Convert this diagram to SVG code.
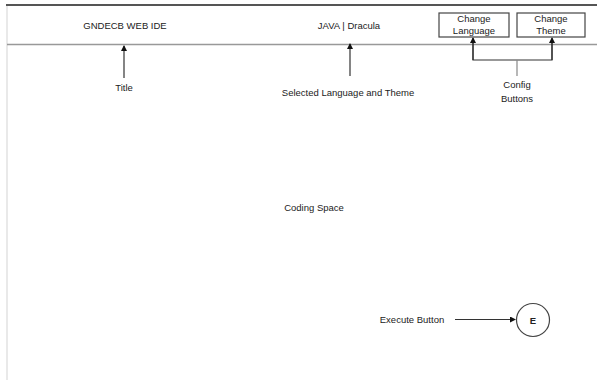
<svg xmlns="http://www.w3.org/2000/svg" width="597" height="380" viewBox="0 0 597 380">
<style>
text{font-family:"Liberation Sans",Arial,sans-serif;font-size:9.5px;fill:#222;text-anchor:middle}
.c{stroke:#333;stroke-width:1.2;fill:none}
.box{fill:#fff;stroke:#444;stroke-width:1.2}
</style>
<defs>
<marker id="ah" markerWidth="6" markerHeight="6" refX="5" refY="3" orient="auto" markerUnits="userSpaceOnUse">
<path d="M0,0 L6,3 L0,6 Z" fill="#111"/>
</marker>
</defs>
<rect width="597" height="380" fill="#fff"/>
<g id="frame">
<line x1="7" y1="5" x2="7" y2="380" stroke="#e2e2e2" stroke-width="1.5"/>
<line x1="6" y1="5" x2="597" y2="5" stroke="#555" stroke-width="2"/>
<line x1="7" y1="44.5" x2="597" y2="44.5" stroke="#999" stroke-width="1.5"/>
</g>
<g id="connectors">
<line class="c" x1="124" y1="78" x2="124" y2="46" marker-end="url(#ah)"/>
<line class="c" x1="350" y1="76" x2="350" y2="44" marker-end="url(#ah)"/>
<polyline class="c" points="473,39 473,60 552,60 552,39"/>
<line class="c" x1="473" y1="60" x2="473" y2="38" marker-end="url(#ah)"/>
<line class="c" x1="552" y1="60" x2="552" y2="38" marker-end="url(#ah)"/>
<line x1="517" y1="60" x2="517" y2="76" stroke="#888" stroke-width="1.2"/>
<line class="c" x1="455" y1="319.5" x2="515" y2="319.5" marker-end="url(#ah)"/>
</g>
<g id="title"><text x="125" y="29">GNDECB WEB IDE</text></g>
<g id="lang-theme"><text x="349" y="29">JAVA | Dracula</text></g>
<g id="change-language">
<rect class="box" x="439" y="13" width="70" height="24"/>
<text x="474" y="22">Change</text>
<text x="474" y="34">Language</text>
</g>
<g id="change-theme">
<rect class="box" x="517" y="13" width="68" height="24"/>
<text x="551" y="22">Change</text>
<text x="551" y="34">Theme</text>
</g>
<g id="label-title"><text x="124" y="91">Title</text></g>
<g id="label-selected"><text x="348" y="96">Selected Language and Theme</text></g>
<g id="label-config">
<text x="517" y="88">Config</text>
<text x="517" y="102">Buttons</text>
</g>
<g id="coding-space"><text x="314" y="211">Coding Space</text></g>
<g id="label-execute"><text x="412" y="323">Execute Button</text></g>
<g id="execute-button">
<circle cx="533" cy="320" r="16.5" fill="#fff" stroke="#444" stroke-width="1.2"/>
<text x="533" y="323.5" style="font-weight:bold">E</text>
</g>
</svg>
